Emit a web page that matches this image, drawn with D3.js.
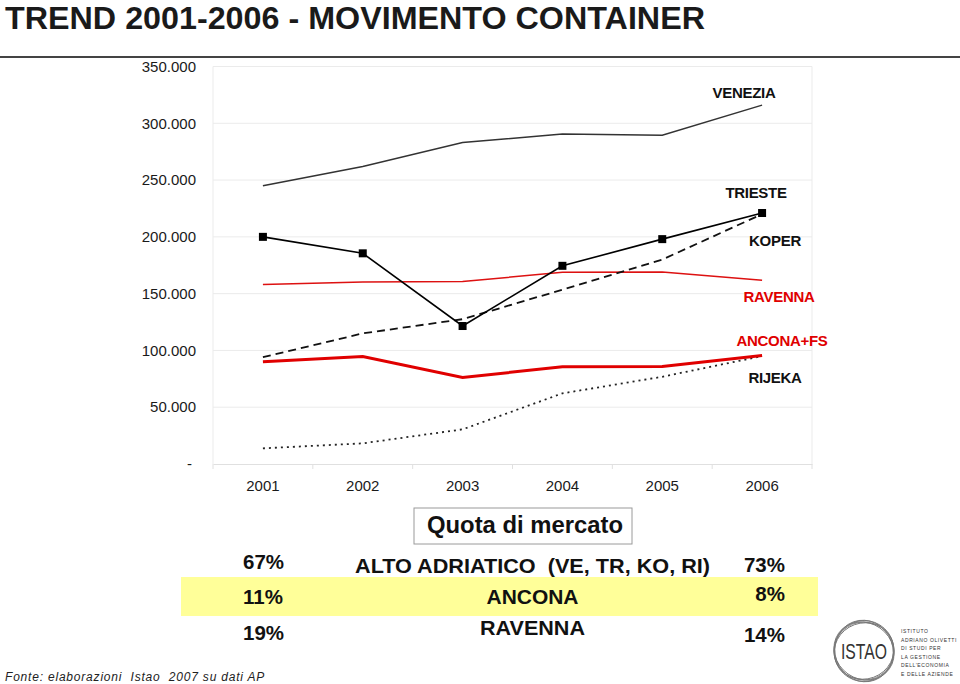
<!DOCTYPE html>
<html>
<head>
<meta charset="utf-8">
<script src="https://cdn.jsdelivr.net/npm/d3@7"></script>
<style>
  html, body { margin: 0; padding: 0; background: #fff; }
  svg { display: block; font-family: "Liberation Sans", Arial, sans-serif; }
</style>
</head>
<body>
<svg id="chart" width="960" height="684"></svg>
<script>
// ---- data ----
const years    = ["2001", "2002", "2003", "2004", "2005", "2006"];
const venezia  = [245000, 262000, 283000, 290500, 289500, 316000];
const trieste  = [200000, 185500, 121500, 174500, 198000, 221000];
const koper    = [94000, 115000, 127500, 153500, 180000, 220000];
const ravenna  = [158000, 160300, 160600, 168800, 169000, 161800];
const ancona   = [90000, 94700, 76200, 85600, 85900, 95500];
const rijeka   = [13800, 18200, 30500, 62200, 76800, 95000];
const yTicks   = [0, 50000, 100000, 150000, 200000, 250000, 300000, 350000];
const seriesNames = ["VENEZIA", "TRIESTE", "KOPER", "RAVENNA", "ANCONA+FS", "RIJEKA"];
const labelValues = [327000, 238600, 197000, 146900, 108200, 75600];

const shareLabels = ["ALTO ADRIATICO  (VE, TR, KO, RI)", "ANCONA", "RAVENNA"];
const share2001   = ["67%", "11%", "19%"];
const share2006   = ["73%", "8%", "14%"];

// ---- setup ----
const svg = d3.select("#chart");
const W = 960, H = 684;

// title
svg.append("text").attr("x", 5).attr("y", 29)
  .attr("font-size", 31.5).attr("font-weight", "bold").attr("fill", "#1a1a1a")
  .attr("textLength", 700).attr("lengthAdjust", "spacingAndGlyphs")
  .text("TREND 2001-2006 - MOVIMENTO CONTAINER");
svg.append("line").attr("x1", 0).attr("x2", W).attr("y1", 57).attr("y2", 57)
  .attr("stroke", "#444").attr("stroke-width", 2);

// scales
const x = d3.scaleBand().domain(years).range([213, 812]).padding(0);
const y = d3.scaleLinear().domain([0, 350000]).range([464, 66.5]);
const cx = d => x(d) + x.bandwidth() / 2;

// grid
const g = svg.append("g");
g.selectAll(".grid").data(yTicks.filter(d => d > 0)).join("line")
  .attr("x1", 213).attr("x2", 812)
  .attr("y1", d => y(d)).attr("y2", d => y(d))
  .attr("stroke", "#ebebeb").attr("stroke-width", 1);
g.append("line").attr("x1", 213).attr("x2", 213).attr("y1", y(350000)).attr("y2", y(0))
  .attr("stroke", "#ebebeb");
g.append("line").attr("x1", 812).attr("x2", 812).attr("y1", y(350000)).attr("y2", y(0))
  .attr("stroke", "#ebebeb");

// y axis labels
g.selectAll(".ylab").data(yTicks).join("text")
  .attr("x", d => d === 0 ? 192 : 196)
  .attr("y", d => y(d))
  .attr("dy", "0.35em")
  .attr("text-anchor", "end")
  .attr("font-size", 15).attr("fill", "#1a1a1a")
  .text(d => d === 0 ? "-" : d3.format(",")(d).replace(/,/g, "."));

// x axis
const xAxis = d3.axisBottom(x).tickSize(0).tickPadding(0);
const xg = svg.append("g").attr("transform", `translate(0,${y(0)})`).call(xAxis);
xg.select(".domain").attr("stroke", "#e0e0e0");
xg.selectAll(".tick text").attr("font-size", 15).attr("fill", "#1a1a1a")
  .attr("font-family", "Liberation Sans, Arial, sans-serif").attr("dy", 0).attr("y", 27);
const bounds = years.map(d => x(d)).concat([812]);
xg.selectAll(".btick").data(bounds).join("line")
  .attr("x1", d => d).attr("x2", d => d).attr("y1", 0).attr("y2", 5)
  .attr("stroke", "#e0e0e0");

// lines
const line = d3.line().x((d, i) => cx(years[i])).y(d => y(d));
const series = [
  { v: venezia, color: "#333333", w: 1.5, dash: null },
  { v: ravenna, color: "#dd1111", w: 1.5, dash: null },
  { v: rijeka,  color: "#222222", w: 1.8, dash: "2,4" },
  { v: koper,   color: "#111111", w: 1.8, dash: "8,5" },
  { v: ancona,  color: "#e00000", w: 3, dash: null },
  { v: trieste, color: "#000000", w: 1.6, dash: null }
];
series.forEach(s => {
  svg.append("path").datum(s.v).attr("d", line)
    .attr("fill", "none").attr("stroke", s.color).attr("stroke-width", s.w)
    .attr("stroke-dasharray", s.dash);
});
svg.selectAll(".mk").data(trieste).join("rect")
  .attr("x", (d, i) => cx(years[i]) - 4).attr("y", d => y(d) - 4)
  .attr("width", 8).attr("height", 8).attr("fill", "#000");

// series labels
const labelColors = ["#111", "#111", "#111", "#e00000", "#e00000", "#111"];
const labelCenters = [744, 756, 775, 779, 782, 775];
svg.selectAll(".slab").data(seriesNames).join("text")
  .attr("x", (d, i) => labelCenters[i])
  .attr("y", (d, i) => y(labelValues[i]))
  .attr("dy", "0.35em").attr("text-anchor", "middle")
  .attr("font-size", 15).attr("font-weight", "bold")
  .attr("letter-spacing", -0.3)
  .attr("fill", (d, i) => labelColors[i])
  .text(d => d);

// ---- market share section ----
svg.append("rect").attr("x", 414).attr("y", 508).attr("width", 218).attr("height", 36)
  .attr("fill", "#fff").attr("stroke", "#9a9a9a").attr("stroke-width", 1);
svg.append("text").attr("x", 525).attr("y", 533).attr("text-anchor", "middle")
  .attr("font-size", 24).attr("font-weight", "bold").attr("fill", "#111")
  .attr("textLength", 196).attr("lengthAdjust", "spacingAndGlyphs")
  .text("Quota di mercato");

svg.append("rect").attr("x", 181).attr("y", 577).attr("width", 637).attr("height", 39)
  .attr("fill", "#ffff99");

const leftBase  = [569, 604, 640];
const midBase   = [573, 604, 635];
const rightBase = [572, 601, 642];
const midLens   = [355, 92, 105];

svg.selectAll(".l01").data(share2001).join("text")
  .attr("x", 243).attr("y", (d, i) => leftBase[i])
  .attr("font-size", 20.5).attr("font-weight", "bold").attr("fill", "#111")
  .text(d => d);
svg.selectAll(".mid").data(shareLabels).join("text")
  .attr("x", 532.5).attr("y", (d, i) => midBase[i]).attr("text-anchor", "middle")
  .attr("font-size", 21).attr("font-weight", "bold").attr("fill", "#111")
  .attr("textLength", (d, i) => midLens[i]).attr("lengthAdjust", "spacingAndGlyphs")
  .style("white-space", "pre")
  .text(d => d);
svg.selectAll(".l06").data(share2006).join("text")
  .attr("x", 785).attr("y", (d, i) => rightBase[i]).attr("text-anchor", "end")
  .attr("font-size", 20.5).attr("font-weight", "bold").attr("fill", "#111")
  .text(d => d);

// footer
svg.append("text").attr("x", 5).attr("y", 681)
  .attr("font-size", 12).attr("font-style", "italic").attr("fill", "#222")
  .attr("letter-spacing", 0.8)
  .style("white-space", "pre")
  .text("Fonte: elaborazioni  Istao  2007 su dati AP");

// logo
const logo = svg.append("g").attr("transform", "translate(864,651)");
[[30, 29, 0], [29, 31, -20], [31, 28, 35], [28, 30, 70], [30.5, 30, 110]].forEach(([rx, ry, rot]) => {
  logo.append("ellipse").attr("rx", rx).attr("ry", ry)
    .attr("transform", `rotate(${rot})`)
    .attr("fill", "none").attr("stroke", "#777").attr("stroke-width", 0.9);
});
logo.append("text").attr("x", 0).attr("y", 8).attr("text-anchor", "middle")
  .attr("font-size", 22).attr("fill", "#333")
  .attr("textLength", 46).attr("lengthAdjust", "spacingAndGlyphs")
  .text("ISTAO");
const logoLines = ["ISTITUTO", "ADRIANO OLIVETTI", "DI STUDI PER", "LA GESTIONE", "DELL\u2019ECONOMIA", "E DELLE AZIENDE"];
const lt = svg.append("g").attr("transform", "translate(901,633) scale(0.5)");
lt.selectAll("text").data(logoLines).join("text")
  .attr("x", 0).attr("y", (d, i) => i * 17)
  .attr("font-size", 10).attr("fill", "#333")
  .attr("letter-spacing", 1.2)
  .text(d => d);
</script>
</body>
</html>
